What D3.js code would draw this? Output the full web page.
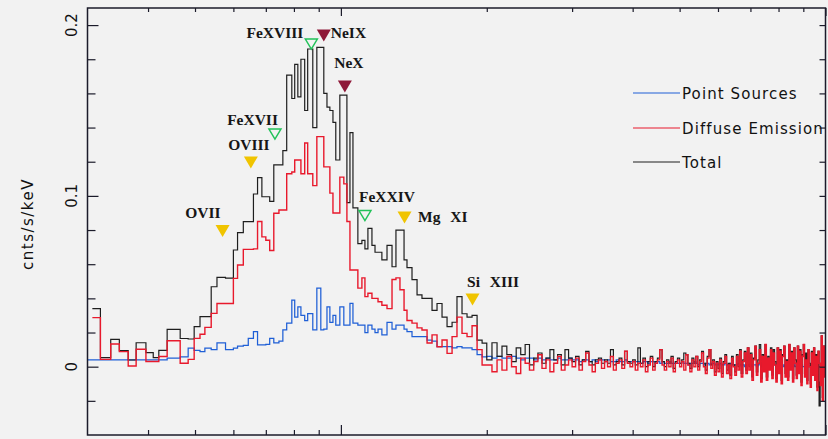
<!DOCTYPE html>
<html>
<head>
<meta charset="utf-8">
<script src="https://cdn.jsdelivr.net/npm/d3@7"></script>
<style>
  html, body { margin: 0; padding: 0; background: #f2f2f2; }
  svg { display: block; }
</style>
</head>
<body>
<svg id="chart" width="828" height="439"></svg>
<script>
// ---- Spectrum data -------------------------------------------------------
// Soft band: variable-width bins (edges in keV), values in cnts/s/keV
const edgesSoft = [
  0.307, 0.319, 0.335, 0.349, 0.364, 0.378, 0.396, 0.410, 0.421, 0.438,
  0.466, 0.484, 0.498, 0.512, 0.524, 0.540, 0.555, 0.578, 0.600, 0.612,
  0.629, 0.644, 0.660, 0.673, 0.687, 0.700, 0.713, 0.727, 0.745, 0.759,
  0.773, 0.792, 0.803, 0.815, 0.827, 0.842, 0.854, 0.875, 0.892, 0.909,
  0.922, 0.936, 0.949, 0.963, 0.976, 0.995, 1.014, 1.029, 1.044, 1.059,
  1.084, 1.105, 1.121, 1.137, 1.159, 1.176, 1.193, 1.215, 1.245, 1.275,
  1.299, 1.324, 1.350, 1.369, 1.402, 1.436, 1.470, 1.506, 1.542, 1.579,
  1.617, 1.656, 1.696, 1.736, 1.778, 1.821, 1.865, 1.910, 1.956, 2.000
];

const totalSoft = [
  .034, .0053, .016, .0094, .0039, .014, .0082, .0053, .0095, .0219,
  .0165, .0162, .0234, .0293, .0293, .0468, .0523, .0518, .0683, .0785,
  .0849, .0849, .1011, .1107, .0995, .0995, .0968, .1181, .1181, .1265,
  .1707, .157, .177, .158, .180, .150, .186, .140, .187, .187,
  .160, .152, .150, .143, .121, .159, .159, .096, .137, .093,
  .072, .074, .069, .081, .071, .067, .067, .0625, .071, .0585,
  .080, .080, .0625, .058, .051, .042, .040, .040, .033, .037,
  .029, .0234, .026, .041, .031, .029, .030, .0156, .0138
];

const diffuseSoft = [
  .0287, .0043, .0133, .0088, .0004, .0102, .003, .003, .006, .0152,
  .002, .0043, .0166, .019, .023, .0312, .037, .037, .0517, .0595,
  .0687, .0687, .069, .085, .076, .074, .068, .0898, .0917, .0917,
  .113, .114, .121, .121, .113, .131, .113, .106, .1347, .1347,
  .117, .117, .1016, .090, .090, .111, .107, .085, .0566, .0566,
  .046, .052, .041, .043, .040, .040, .038, .036, .034, .051,
  .052, .045, .033, .027, .0255, .0227, .0215, .0139, .0186, .0117,
  .0156, .0078, .0176, .029, .0195, .0176, .024, .010, .001
];

const pointSoft = [
  .004, .004, .004, .004, .004, .004, .004, .004, .004, .005,
  .0058, .0108, .0095, .0088, .0108, .010, .014, .010, .0108, .012,
  .0125, .0166, .0205, .0127, .0127, .013, .0166, .014, .015, .0215,
  .0255, .039, .029, .035, .030, .027, .031, .0215, .046, .0215,
  .022, .035, .026, .030, .0244, .035, .0244, .0244, .037, .0255,
  .0244, .0244, .020, .0244, .022, .020, .022, .0186, .026, .022,
  .0244, .0244, .022, .0205, .0176, .0176, .0176, .0156, .015, .0117,
  .0117, .0117, .011, .0117, .011, .011, .010, .007, .0058
];

// Point-source model level below the first soft bin
const pointFloor = 0.004;
const pointFloorStart = 0.3;

// Hard band: uniform 50 eV channels from 2 to 10 keV
const hardStart = 2.0;
const hardWidth = 0.05;

const totalHard = [
  .004, .014, .006, .012, .007, .003, .011, .007, .013, .001,
  .005, .008, .002, .005, .010, .004, .007, .001, .010, .005,
  .003, .006, .001, .004, .009, .003, .001, .004, .005, .002,
  .004, .002, .010, .001, .003, .005, .001, .009, .003, .002,
  .004, .001, .011, .002, .005, .000, .003, .006, .000, .003,
  .005, .010, .003, .000, .004, .002, .006, -.001, .003, .005,
  .002, .004, .008, .007, .002, -.001, .005, .002, .006, .000,
  .004, .009, .002, -.002, .006, .010, .001, .004, -.003, .003,
  -.001, .005, -.004, .003, .007, -.002, .002, -.005, .006, .001,
  -.003, .007, .000, .010, -.004, .004, .009, -.002, .011, .000,
  .008, -.006, .005, .012, -.003, .004, .013, -.007, .007, -.001,
  .013, -.006, .006, .000, .011, -.005, .010, .003, -.007, .011,
  -.002, .010, -.008, .007, .012, -.004, .004, -.006, .013, .000,
  .009, -.007, .011, .004, -.005, .012, -.002, .010, -.009, .007,
  .013, -.004, .008, -.008, .010, .002, -.010, .009, -.003, .011,
  -.006, .007, -.012, .009, -.023, -.009, .018, -.018, .012, -.004
];

const diffuseHard = [
  .001, -.003, .004, -.002, .006, .000, -.004, .005, .002, -.002,
  .003, .007, -.001, .004, -.003, .002, .006, -.002, .001, .004,
  .000, .005, -.002, .003, .008, .001, -.003, .002, .004, -.001,
  .003, .000, .006, -.002, .002, .004, -.001, .009, .002, .000,
  .003, -.002, .002, .000, .004, -.003, .001, .005, -.002, .002,
  .004, .010, .001, -.002, .003, .000, .005, -.003, .002, .004,
  .000, .003, -.002, .007, .001, -.003, .004, .000, .006, -.002,
  .003, .008, .000, -.004, .005, .010, -.001, .003, -.005, .002,
  -.003, .004, -.006, .002, .006, -.004, .001, -.007, .005, .000,
  -.005, .006, -.002, .009, -.006, .003, .008, -.004, .011, -.002,
  .007, -.008, .004, .012, -.005, .002, .010, -.009, .006, -.003,
  .013, -.008, .005, -.002, .010, -.007, .008, .001, -.009, .011,
  -.004, .009, -.010, .006, .012, -.006, .003, -.008, .013, -.002,
  .008, -.009, .011, .002, -.007, .012, -.004, .009, -.011, .006,
  .013, -.006, .004, -.010, .010, .000, -.012, .008, -.005, .011,
  -.008, .006, -.014, .009, .002, -.011, .018, -.020, .012, -.006
];

const pointHard = [
  .006, .005, .006, .005, .005, .006, .005, .004, .005, .005,
  .004, .005, .004, .005, .004, .004, .005, .004, .004, .005,
  .004, .004, .003, .004, .004, .003, .004, .003, .004, .004,
  .003, .004, .003, .003, .004, .003, .003, .004, .003, .003,
  .003, .003, .003, .002, .003, .003, .002, .003, .003, .002,
  .003, .002, .003, .002, .002, .003, .002, .002, .003, .002,
  .002, .003, .002, .002, .001, .002, .002, .003, .002, .001,
  .002, .002, .001, .002, .002, .001, .002, .002, .001, .002,
  .001, .002, .001, .001, .002, .001, .001, .002, .001, .001,
  .001, .001, .002, .001, .001, .001, .000, .001, .001, .001,
  .001, .000, .001, .001, .000, .001, .002, .000, .001, .001,
  .000, .001, .001, .000, .001, .000, .001, .001, .000, .001,
  .000, .001, .000, .000, .001, .000, .001, .000, .000, .001,
  .000, .000, .001, .000, .000, .001, .000, .000, .001, .000,
  .000, .001, .000, .000, .000, .001, .000, .000, .000, .001,
  .000, .000, .001, .000, .000, .000, .001, .000, .000, .000
];

// Axis ticks
const yMinorTicks = [-0.02, 0.02, 0.04, 0.06, 0.08, 0.12, 0.14, 0.16, 0.18];
const yMajorTicks = [0, 0.1, 0.2];
const yTickLabels = ["0", "0.1", "0.2"];
const xMinorTicks = [0.4, 0.5, 0.6, 0.7, 0.8, 0.9, 2, 3, 4, 5, 6, 7, 8, 9];
const xMajorTicks = [1, 10];

// Series legend
const seriesNames = ["Point Sources", "Diffuse Emission", "Total"];
const seriesColors = ["#1f5fd6", "#e8192c", "#1e1e1e"];

// Emission line markers: label, line energy (keV), marker level (cnts/s/keV), marker type
const lineNames   = ["OVII", "OVIII", "FeXVII", "FeXVIII", "NeIX", "NeX", "FeXXIV", "Mg XI", "Si XIII"];
const lineEnergy  = [0.570, 0.652, 0.731, 0.869, 0.922, 1.019, 1.121, 1.353, 1.869];
const lineLevel   = [0.0794, 0.1196, 0.1362, 0.1889, 0.1939, 0.164, 0.0885, 0.0874, 0.0393];
const lineKind    = ["O", "O", "Fe", "Fe", "Ne", "Ne", "Fe", "Mg", "Si"];

// ---- Layout ---------------------------------------------------------------
const svg = d3.select("#chart");
const L = 87.5, R = 825.5, T = 8, B = 435;

const x = d3.scaleLog().domain([0.3, 10]).range([L, R]);
const y = d3.scaleLinear().domain([-0.04, 0.21]).range([B, T]);

svg.append("rect").attr("width", 828).attr("height", 439).attr("fill", "#f2f2f2");

svg.append("defs").append("clipPath").attr("id", "plot-clip")
  .append("rect").attr("x", L).attr("y", T).attr("width", R - L).attr("height", B - T);

// Bin edges for the full spectrum
const hardEdges = d3.range(totalHard.length + 1).map(i => +(hardStart + i * hardWidth).toFixed(3));
const edges = edgesSoft.concat(hardEdges.slice(1));
const series = [
  { name: "point",   values: pointSoft.concat(pointHard),     color: seriesColors[0], width: 1.25 },
  { name: "total",   values: totalSoft.concat(totalHard),     color: seriesColors[2], width: 1.2 },
  { name: "diffuse", values: diffuseSoft.concat(diffuseHard), color: seriesColors[1], width: 1.4 }
];

// Step histogram: each bin contributes its left and right corner
function stepPoints(values, lead) {
  const pts = lead ? [lead] : [];
  values.forEach((v, i) => {
    pts.push([edges[i], v]);
    pts.push([edges[i + 1], v]);
  });
  return pts;
}
const stepLine = d3.line().x(d => x(d[0])).y(d => y(d[1]));

const plot = svg.append("g").attr("clip-path", "url(#plot-clip)");
series.forEach(s => {
  const lead = s.name === "point" ? [pointFloorStart, pointFloor] : null;
  plot.append("path")
    .attr("d", stepLine(stepPoints(s.values, lead)))
    .attr("fill", "none")
    .attr("stroke", s.color)
    .attr("stroke-width", s.width)
    .attr("stroke-linejoin", "miter");
});

// ---- Axes (ticks on all four sides, pointing inward) -----------------------
const axisColor = "#1b1b2a";
function styleAxis(g) {
  g.select(".domain").remove();
  g.selectAll(".tick line").attr("stroke", axisColor).attr("stroke-width", 1.2);
  g.selectAll(".tick text").remove();
}
svg.append("g").attr("transform", `translate(${L},0)`)
  .call(d3.axisLeft(y).tickValues(yMinorTicks).tickSize(-8)).call(styleAxis);
svg.append("g").attr("transform", `translate(${L},0)`)
  .call(d3.axisLeft(y).tickValues(yMajorTicks).tickSize(-11)).call(styleAxis);
svg.append("g").attr("transform", `translate(${R},0)`)
  .call(d3.axisRight(y).tickValues(yMinorTicks.concat(yMajorTicks)).tickSize(-6)).call(styleAxis);
svg.append("g").attr("transform", `translate(0,${B})`)
  .call(d3.axisBottom(x).tickValues(xMinorTicks).tickSize(-5)).call(styleAxis);
svg.append("g").attr("transform", `translate(0,${B})`)
  .call(d3.axisBottom(x).tickValues(xMajorTicks).tickSize(-10)).call(styleAxis);
svg.append("g").attr("transform", `translate(0,${T})`)
  .call(d3.axisTop(x).tickValues(xMinorTicks).tickSize(-4)).call(styleAxis);
svg.append("g").attr("transform", `translate(0,${T})`)
  .call(d3.axisTop(x).tickValues(xMajorTicks).tickSize(-8)).call(styleAxis);

svg.append("rect")
  .attr("x", L).attr("y", T).attr("width", R - L).attr("height", B - T)
  .attr("fill", "none").attr("stroke", axisColor).attr("stroke-width", 1.5);

// Rotated y tick labels
yMajorTicks.forEach((v, i) => {
  svg.append("text")
    .attr("transform", `translate(77,${y(v)}) rotate(-90)`)
    .attr("text-anchor", "middle")
    .attr("font-family", "DejaVu Sans, sans-serif")
    .attr("font-size", 15)
    .attr("fill", "#111")
    .text(yTickLabels[i]);
});

// Y axis title
svg.append("text")
  .attr("transform", "translate(33,224) rotate(-90)")
  .attr("text-anchor", "middle")
  .attr("font-family", "DejaVu Sans, sans-serif")
  .attr("font-size", 15)
  .attr("letter-spacing", 1.5)
  .attr("fill", "#111")
  .text("cnts/s/keV");

// ---- Legend ------------------------------------------------------------------
const legend = svg.append("g");
const legendRows = [93, 128, 162];
seriesNames.forEach((name, i) => {
  legend.append("line")
    .attr("x1", 633).attr("x2", 680)
    .attr("y1", legendRows[i]).attr("y2", legendRows[i])
    .attr("stroke", seriesColors[i]).attr("stroke-width", 1.2);
  legend.append("text")
    .attr("x", 682).attr("y", legendRows[i] + 6)
    .attr("font-family", "DejaVu Sans, sans-serif")
    .attr("font-size", 15)
    .attr("letter-spacing", 1.1)
    .attr("fill", "#111")
    .text(name);
});

// ---- Emission line markers ------------------------------------------------------
const markerStyle = {
  O:  { fill: "#f0c400", stroke: "none" },
  Mg: { fill: "#f0c400", stroke: "none" },
  Si: { fill: "#f0c400", stroke: "none" },
  Ne: { fill: "#8e1838", stroke: "none" },
  Fe: { fill: "none", stroke: "#22c25a" }
};
// Label placement relative to each marker: [dx, dy, anchor]
const labelOffset = {
  "OVII":    [-2, -13, "end"],
  "OVIII":   [-2, -12.5, "middle"],
  "FeXVII":  [3, -9, "end"],
  "FeXVIII": [-8, -6, "end"],
  "NeIX":    [7, 3, "start"],
  "NeX":     [4, -18.5, "middle"],
  "FeXXIV":  [-6, -13.5, "start"],
  "Mg XI":   [13.5, 4.5, "start"],
  "Si XIII": [-5.5, -12.5, "start"]
};

const marks = svg.append("g");
lineNames.forEach((name, i) => {
  const cx = x(lineEnergy[i]), cy = y(lineLevel[i]);
  const st = markerStyle[lineKind[i]];
  const hw = 7, hh = 6;
  const tri = `M${cx - hw},${cy - hh} L${cx + hw},${cy - hh} L${cx},${cy + hh} Z`;
  marks.append("path")
    .attr("d", st.fill === "none"
      ? `M${cx - hw + 1},${cy - hh + 1} L${cx + hw - 1},${cy - hh + 1} L${cx},${cy + hh - 1} Z`
      : tri)
    .attr("fill", st.fill)
    .attr("stroke", st.stroke)
    .attr("stroke-width", 1.5);
  const off = labelOffset[name];
  marks.append("text")
    .attr("x", cx + off[0]).attr("y", cy + off[1])
    .attr("text-anchor", off[2])
    .attr("font-family", "Liberation Serif, serif")
    .attr("font-weight", "bold")
    .attr("font-size", 15.5)
    .attr("word-spacing", 6)
    .attr("fill", "#161616")
    .text(name);
});
</script>
</body>
</html>
